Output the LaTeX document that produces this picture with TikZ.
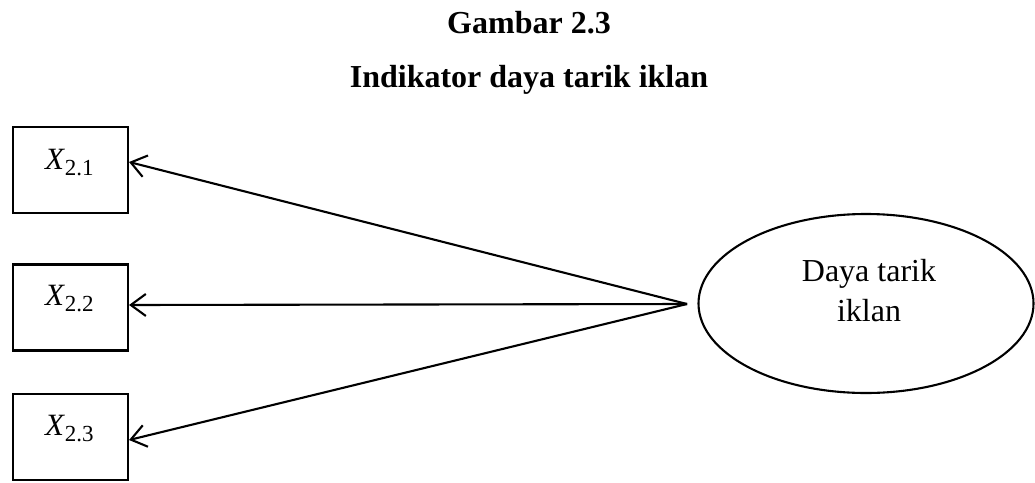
\documentclass[tikz,border=0pt]{standalone}
\usepackage{fontspec}
\setmainfont{Liberation Serif}
\usetikzlibrary{arrows.meta,shapes.geometric,calc}
\begin{document}
\begin{tikzpicture}[x=1pt,y=-1pt,
  line width=2.1pt,
  ttl/.style={font=\fontsize{32}{40}\selectfont\bfseries, anchor=base, inner sep=0pt},
  boxnode/.style={draw, minimum width=115pt, minimum height=86pt, inner sep=0pt},
  lab/.style={font=\fontsize{31}{36}\selectfont, inner sep=0pt, anchor=base west},
  latent/.style={draw, ellipse, minimum width=335pt, minimum height=179pt, inner sep=0pt},
  etext/.style={align=center, inner sep=0pt, font=\fontsize{32}{40}\selectfont},
  arr/.style={-{Straight Barb[length=15pt,width=22pt,line width=2.1pt]}}
]
\useasboundingbox (0,0) rectangle (1035,482);
\node[ttl] (t1) at (529,33) {Gambar 2.3};
\node[ttl] (t2) at (529,87) {Indikator daya tarik iklan};
\node[boxnode] (b1) at (70.5,170) {};
\node[boxnode] (b2) at (70.5,307.5) {};
\node[boxnode] (b3) at (70.5,437) {};
\newcommand{\xlab}[1]{\textit{X}\raisebox{-6pt}{\fontsize{23}{23}\selectfont #1}}
\node[lab] (l1) at (44,169) {\xlab{2.1}};
\node[lab] (l2) at (44,305) {\xlab{2.2}};
\node[lab] (l3) at (44,435) {\xlab{2.3}};
\node[latent] (e) at (866,303.5) {};
\node[etext] (et) at (869,291) {Daya tarik\\iklan};
\coordinate (s) at (687,304);
\draw[arr] (s) -- ($(b1.east)+(0,-8)$);
\draw[arr] (s) -- ($(b2.east)+(0,-2.5)$);
\draw[arr] (s) -- ($(b3.east)+(0,3)$);
\end{tikzpicture}
\end{document}
